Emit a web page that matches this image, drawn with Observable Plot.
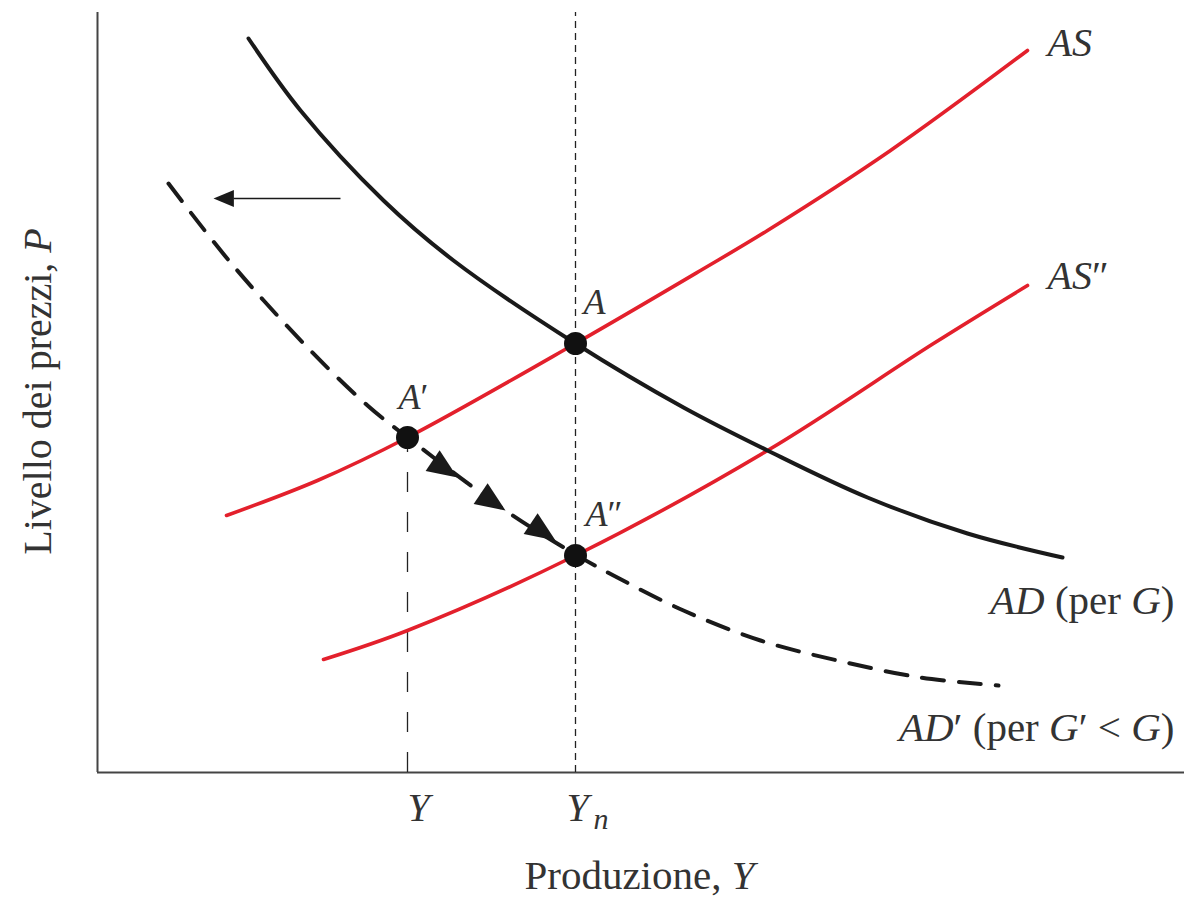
<!DOCTYPE html>
<html>
<head>
<meta charset="utf-8">
<script src="https://cdn.jsdelivr.net/npm/d3@7"></script>
<script src="https://cdn.jsdelivr.net/npm/@observablehq/plot@0.6"></script>
<style>
  html, body { margin: 0; padding: 0; background: #fff; }
  #chart svg { display: block; }
</style>
</head>
<body>
<div id="chart"></div>
<script>
// ---- Data (schematic units: output on x, price level on y) ----
const adCurve = [[151,734],[203,662],[286,572],[356,512],[478,429],[586,365],[670,322],[770,275],[870,239],[965,215]];
const asCurve = [[129,257],[220,292],[310,335],[478,429],[603,502],[670,542],[793,622],[930,722]];
const as2Curve = [[226,113],[310,142],[478,217],[670,322],[836,429],[930,487]];
const adPrimeCurve = [[71,589],[133,510],[210,425],[270,367],[310,335],[408,262],[478,218],[516,197],[586,162],[663,132],[740,112],[823,95],[901,87]];

const equilibria = [
  {name: "A", x: 478, y: 429},
  {name: "A′", x: 310, y: 335},
  {name: "A″", x: 478, y: 217}
];
const yOutput = 310;      // Y
const yNatural = 478;     // Yn
const xMax = 1087;
const yMax = 760;

const moveArrowTips = [[360,295],[408,262],[458,232]];
const shiftArrow = {x1: 243, x2: 136, tip: 116, y: 574};

const pointLabels = [
  {text: "*A*", x: 486, y: 459},
  {text: "*A*′", x: 301, y: 364},
  {text: "*A*″", x: 488, y: 247}
];
const curveLabels = [
  {text: "*AS*", x: 950, y: 717, anchor: "start"},
  {text: "*AS*″", x: 950, y: 484, anchor: "start"},
  {text: "*AD* (per *G*)", x: 1077, y: 159, anchor: "end"},
  {text: "*AD*′ (per *G*′ < *G*)", x: 1077, y: 32, anchor: "end"}
];
const tickLabels = [
  {text: "*Y*", x: 321, y: -48, anchor: "middle", size: 40},
  {text: "*Y*", x: 469, y: -48, anchor: "start", size: 40},
  {text: "*n*", x: 496, y: -56, anchor: "start", size: 30}
];
const xTitle = "Produzione, *Y*";
const yTitle = "Livello dei prezzi, *P*";

// ---- Custom arrowhead symbol (tip at origin, pointing up) ----
const arrowHead = {
  draw(context, size) {
    const r = Math.sqrt(size / Math.PI);
    const len = 2.4 * r, w = 2.0 * r;
    context.moveTo(0, 0);
    context.lineTo(w / 2, len);
    context.lineTo(-w / 2, len);
    context.closePath();
  }
};

const red = "#e3202c";
const ink = "#1a1a1a";
const textColor = "#333";
const font = "'Liberation Serif', 'DejaVu Serif', serif";

const byAnchor = (arr, a) => arr.filter(d => d.anchor === a);

const chart = Plot.plot({
  width: 1184,
  height: 901,
  marginLeft: 97,
  marginRight: 0,
  marginTop: 12,
  marginBottom: 129,
  x: {domain: [0, xMax], axis: null},
  y: {domain: [0, yMax], axis: null},
  style: {fontFamily: font, background: "#fff", color: textColor},
  marks: [
    // axes
    Plot.ruleX([0], {y1: 0, y2: yMax, stroke: "#444", strokeWidth: 2}),
    Plot.ruleY([0], {x1: 0, x2: xMax, stroke: "#444", strokeWidth: 2}),
    // reference verticals
    Plot.ruleX([yNatural], {y1: 0, y2: yMax, stroke: "#222", strokeWidth: 1.3, strokeDasharray: "7,5"}),
    Plot.ruleX([yOutput], {y1: 0, y2: equilibria[1].y, stroke: "#222", strokeWidth: 1.3, strokeDasharray: "20,20"}),
    // curves
    Plot.line(asCurve, {x: d => d[0], y: d => d[1], curve: "catmull-rom", stroke: red, strokeWidth: 3.6}),
    Plot.line(as2Curve, {x: d => d[0], y: d => d[1], curve: "catmull-rom", stroke: red, strokeWidth: 3.6}),
    Plot.line(adCurve, {x: d => d[0], y: d => d[1], curve: "catmull-rom", stroke: ink, strokeWidth: 4}),
    Plot.line(adPrimeCurve, {x: d => d[0], y: d => d[1], curve: "catmull-rom", stroke: ink, strokeWidth: 4, strokeDasharray: "22,15"}),
    // movement arrows along AD'
    Plot.dot(moveArrowTips, {x: d => d[0], y: d => d[1], symbol: arrowHead, r: 12.5, fill: ink, stroke: "none", rotate: 124}),
    // leftward shift arrow
    Plot.link([shiftArrow], {x1: "x1", x2: "x2", y1: "y", y2: "y", stroke: ink, strokeWidth: 1.5}),
    Plot.dot([shiftArrow], {x: "tip", y: "y", symbol: arrowHead, r: 8.5, fill: ink, stroke: "none", rotate: -90}),
    // equilibrium points
    Plot.dot(equilibria, {x: "x", y: "y", r: 11.5, fill: "#111", stroke: "none"}),
    // labels
    Plot.text(pointLabels, {x: "x", y: "y", text: "text", textAnchor: "start", lineAnchor: "bottom", fontSize: 36, fill: textColor}),
    Plot.text(byAnchor(curveLabels, "start"), {x: "x", y: "y", text: "text", textAnchor: "start", lineAnchor: "bottom", fontSize: 40, fill: textColor}),
    Plot.text(byAnchor(curveLabels, "end"), {x: "x", y: "y", text: "text", textAnchor: "end", lineAnchor: "bottom", fontSize: 41, fill: textColor}),
    Plot.text(byAnchor(tickLabels, "middle"), {x: "x", y: "y", text: "text", textAnchor: "middle", lineAnchor: "bottom", fontSize: "size", fill: textColor}),
    Plot.text(byAnchor(tickLabels, "start"), {x: "x", y: "y", text: "text", textAnchor: "start", lineAnchor: "bottom", fontSize: "size", fill: textColor}),
    Plot.text([xTitle], {x: 542, y: -116, text: d => d, textAnchor: "middle", lineAnchor: "bottom", fontSize: 41, fill: textColor}),
    Plot.text([yTitle], {x: -47, y: 381, text: d => d, rotate: -90, textAnchor: "middle", lineAnchor: "bottom", fontSize: 40, fill: textColor})
  ]
});

// turn *...* segments into italic tspans
const NS = "http://www.w3.org/2000/svg";
d3.select(chart).selectAll("text").each(function() {
  const s = this.textContent;
  if (!s.includes("*")) return;
  this.textContent = "";
  s.split("*").forEach((part, i) => {
    if (!part) return;
    const ts = document.createElementNS(NS, "tspan");
    if (i % 2 === 1) ts.setAttribute("font-style", "italic");
    ts.textContent = part;
    this.appendChild(ts);
  });
});

document.getElementById("chart").appendChild(chart);
</script>
</body>
</html>
